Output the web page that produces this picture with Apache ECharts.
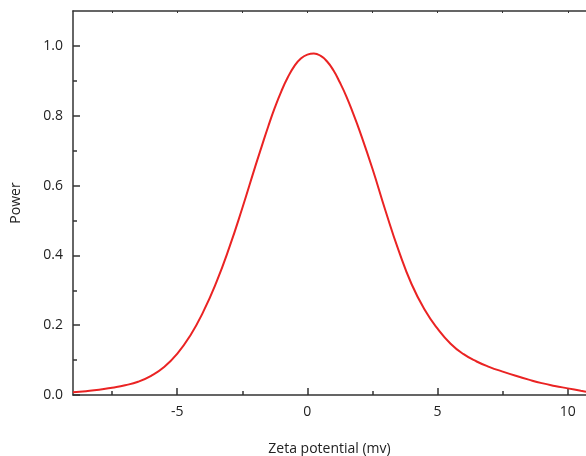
<!DOCTYPE html>
<html>
<head>
<meta charset="utf-8">
<script src="https://cdn.jsdelivr.net/npm/echarts@6/dist/echarts.min.js"></script>
<style>
  html, body { margin: 0; padding: 0; background: #fff; }
  #chart { width: 586px; height: 456px; }
</style>
</head>
<body>
<div id="chart"></div>
<script>
// Zeta potential distribution (normalised power)
const zeta = [-9, -8.5, -8, -7.5, -7, -6.5, -6, -5.5, -5, -4.5, -4, -3.5, -3, -2.5, -2, -1.75, -1.5, -1.25, -1, -0.75, -0.5, -0.25,
  0, 0.25, 0.5, 0.75, 1, 1.25, 1.5, 1.75, 2, 2.5, 3, 3.5, 4, 4.5, 5, 5.5, 6, 6.5, 7, 7.5, 8, 8.5, 9, 9.5, 10, 10.5, 10.7];
const power = [0.008, 0.011, 0.015, 0.021, 0.028, 0.038, 0.055, 0.080, 0.118, 0.170, 0.238, 0.322, 0.422, 0.535, 0.655, 0.713, 0.770, 0.823, 0.870, 0.910, 0.942, 0.964,
  0.975, 0.978, 0.972, 0.956, 0.930, 0.895, 0.855, 0.808, 0.758, 0.648, 0.528, 0.415, 0.318, 0.245, 0.190, 0.147, 0.117, 0.096, 0.080, 0.067, 0.055, 0.044, 0.034, 0.026, 0.019, 0.012, 0.0095];
const xMajorTicks = [-5, 0, 5, 10];
const xMinorTicks = [-7.5, -2.5, 2.5, 7.5];
const yMajorTicks = [0, 0.2, 0.4, 0.6, 0.8, 1.0];
const yMinorTicks = [0.1, 0.3, 0.5, 0.7, 0.9];

const xMin = -9, xMax = 10.7, yMin = 0, yMax = 1.1;
const axisColor = '#333';
const textColor = '#222';
const font = 'Open Sans';

const chart = echarts.init(document.getElementById('chart'));
chart.setOption({
  animation: false,
  grid: { left: 73, right: 0, top: 11, bottom: 61, outerBoundsMode: 'none', containLabel: false },
  xAxis: [
    {
      type: 'value', min: xMin, max: xMax, position: 'bottom',
      name: 'Zeta potential (mv)', nameLocation: 'middle', nameGap: 47,
      nameTextStyle: { fontFamily: font, fontSize: 14, color: textColor },
      axisLine: { show: true, onZero: false, lineStyle: { color: axisColor, width: 1.5 } },
      axisTick: { show: true, inside: true, length: 7, customValues: xMajorTicks, lineStyle: { color: axisColor, width: 1.5 } },
      axisLabel: { customValues: xMajorTicks, margin: 10, fontFamily: font, fontSize: 14, color: textColor,
        formatter: v => String(v) },
      splitLine: { show: false }
    },
    {
      type: 'value', min: xMin, max: xMax, position: 'bottom',
      axisLine: { show: false, onZero: false },
      axisTick: { show: true, inside: true, length: 4, customValues: xMinorTicks, lineStyle: { color: axisColor, width: 1.5 } },
      axisLabel: { show: false },
      splitLine: { show: false }
    },
    {
      type: 'value', min: xMin, max: xMax, position: 'top',
      axisLine: { show: true, onZero: false, lineStyle: { color: axisColor, width: 1.5 } },
      axisTick: { show: true, inside: true, length: 2, customValues: xMajorTicks.concat(xMinorTicks), lineStyle: { color: axisColor, width: 1 } },
      axisLabel: { show: false },
      splitLine: { show: false }
    }
  ],
  yAxis: [
    {
      type: 'value', min: yMin, max: yMax, position: 'left',
      name: 'Power', nameLocation: 'middle', nameGap: 50, nameRotate: 90,
      nameTextStyle: { fontFamily: font, fontSize: 14, color: textColor },
      axisLine: { show: true, onZero: false, lineStyle: { color: axisColor, width: 1.5 } },
      axisTick: { show: true, inside: true, length: 7, customValues: yMajorTicks, lineStyle: { color: axisColor, width: 1.5 } },
      axisLabel: { customValues: yMajorTicks, margin: 10, fontFamily: font, fontSize: 14, color: textColor,
        formatter: v => v.toFixed(1) },
      splitLine: { show: false }
    },
    {
      type: 'value', min: yMin, max: yMax, position: 'left',
      axisLine: { show: false, onZero: false },
      axisTick: { show: true, inside: true, length: 4, customValues: yMinorTicks, lineStyle: { color: axisColor, width: 1.5 } },
      axisLabel: { show: false },
      splitLine: { show: false }
    }
  ],
  series: [{
    type: 'line',
    data: zeta.map((z, i) => [z, power[i]]),
    smooth: 0.5,
    showSymbol: false,
    lineStyle: { color: '#ea2323', width: 2 }
  }]
});
</script>
</body>
</html>
